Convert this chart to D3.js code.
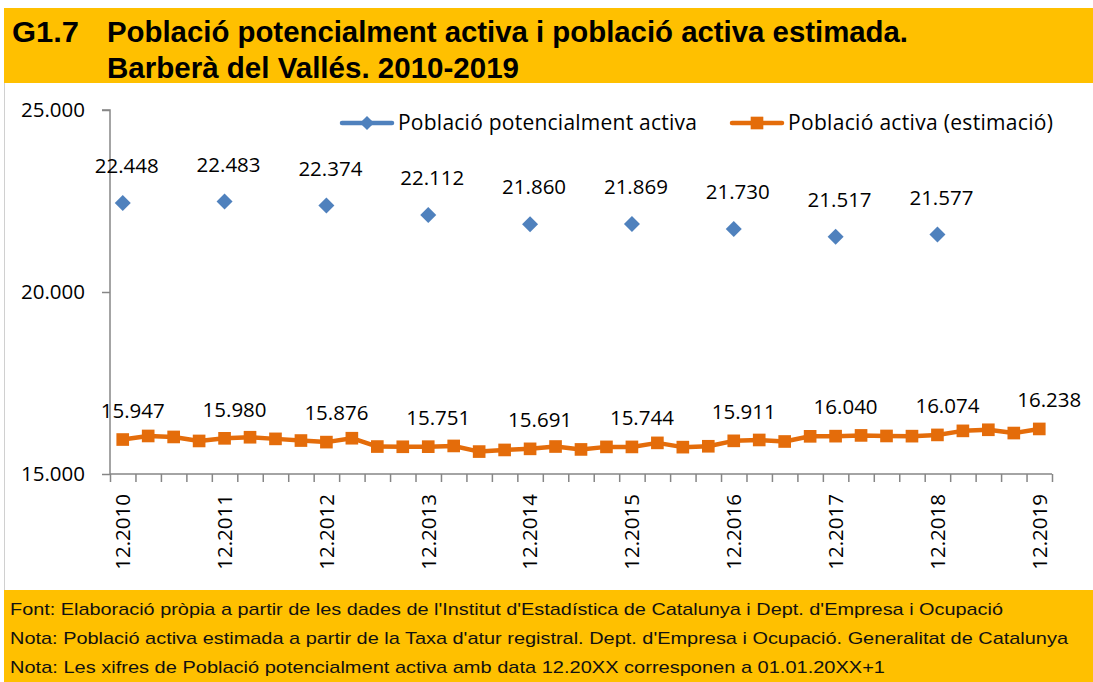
<!DOCTYPE html>
<html><head><meta charset="utf-8">
<script src="https://cdn.jsdelivr.net/npm/d3@7"></script>
<style>body{margin:0;background:#fff}svg{display:block}</style>
</head><body>
<svg id="c" width="1093" height="682"></svg>
<script>
// ---- data ----
const categories = [
  "12.2010","03.2011","06.2011","09.2011","12.2011","03.2012","06.2012","09.2012",
  "12.2012","03.2013","06.2013","09.2013","12.2013","03.2014","06.2014","09.2014",
  "12.2014","03.2015","06.2015","09.2015","12.2015","03.2016","06.2016","09.2016",
  "12.2016","03.2017","06.2017","09.2017","12.2017","03.2018","06.2018","09.2018",
  "12.2018","03.2019","06.2019","09.2019","12.2019"
];
const activeEstimate = [
  15947,16045,16018,15908,15980,16010,15965,15919,
  15876,15983,15754,15748,15751,15771,15616,15661,
  15691,15755,15675,15745,15744,15855,15738,15762,
  15911,15935,15893,16035,16040,16060,16045,16040,
  16074,16185,16215,16125,16238
];
const potentialCategories = ["12.2010","12.2011","12.2012","12.2013","12.2014","12.2015","12.2016","12.2017","12.2018"];
const potentialActive = [22448,22483,22374,22112,21860,21869,21730,21517,21577];
const labelledCategories = ["12.2010","12.2011","12.2012","12.2013","12.2014","12.2015","12.2016","12.2017","12.2018","12.2019"];
const yTicks = [15000,20000,25000];
const seriesNames = ["Població potencialment activa","Població activa (estimació)"];
const titleCode = "G1.7";
const titleLines = ["Població potencialment activa i població activa estimada.","Barberà del Vallés. 2010-2019"];
const footnotes = [
  "Font: Elaboració pròpia a partir de les dades de l'Institut d'Estadística de Catalunya i Dept. d'Empresa i Ocupació",
  "Nota: Població activa estimada a partir de la Taxa d'atur registral. Dept. d'Empresa i Ocupació. Generalitat de Catalunya",
  "Nota: Les xifres de Població potencialment activa amb data 12.20XX corresponen a 01.01.20XX+1"
];

// ---- setup ----
const svg = d3.select("#c");
const W = 1093, H = 682;
const pLeft = 110, pRight = 1052, pTop = 110, pBottom = 474;
const BLUE = "#4F81BD", ORANGE = "#E46C0A", YELLOW = "#FFC000", AXIS = "#868686";
const FONT = "'Open Sans', sans-serif";
const loc = d3.formatLocale({decimal: ",", thousands: ".", grouping: [3], currency: ["", "€"]});
const fmt = loc.format(",d");

const x = d3.scaleBand().domain(categories).range([pLeft, pRight]).padding(0);
const cx = c => x(c) + x.bandwidth() / 2;
const edges = d3.scaleLinear().domain([0, categories.length]).range([pLeft, pRight]);
const y = d3.scaleLinear().domain([15000, 25000]).range([pBottom, pTop]);

// chart border
svg.append("line").attr("x1", 4.5).attr("x2", 4.5).attr("y1", 80).attr("y2", 592)
  .attr("stroke", "#d0d0d0").attr("stroke-width", 1);

// title band
svg.append("rect").attr("x", 4).attr("y", 8).attr("width", W - 4).attr("height", 75).attr("fill", YELLOW);
const tfont = "'Liberation Sans', Arial, sans-serif";
svg.append("text").attr("x", 12).attr("y", 42).text(titleCode)
  .attr("font-family", tfont).attr("font-weight", "bold").attr("font-size", 29)
  .attr("textLength", 67).attr("lengthAdjust", "spacingAndGlyphs");
titleLines.forEach((t, i) => {
  svg.append("text").attr("x", 107).attr("y", 42 + i * 36).text(t)
    .attr("font-family", tfont).attr("font-weight", "bold").attr("font-size", 29)
    .attr("textLength", i === 0 ? 801 : 412).attr("lengthAdjust", "spacingAndGlyphs");
});

// footer band
svg.append("rect").attr("x", 4).attr("y", 590).attr("width", W - 4).attr("height", H - 590).attr("fill", YELLOW);
const footLens = [993, 1058, 875];
footnotes.forEach((t, i) => {
  svg.append("text").attr("x", 10).attr("y", 615 + i * 29).text(t)
    .attr("font-family", tfont).attr("font-size", 17).attr("fill", "#111")
    .attr("textLength", footLens[i]).attr("lengthAdjust", "spacingAndGlyphs");
});

// y axis
const yAxis = d3.axisLeft(y).tickValues(yTicks).tickSize(8).tickFormat(fmt);
const gy = svg.append("g").attr("transform", `translate(${pLeft},0)`).call(yAxis);
gy.select(".domain").attr("stroke", AXIS).attr("stroke-width", 1.5).attr("d", `M-8,${pTop}H0V${pBottom}`);
gy.selectAll(".tick line").attr("stroke", AXIS).attr("stroke-width", 1.5);
gy.selectAll(".tick text").attr("x", -25).attr("font-family", FONT).attr("font-size", 20.5).attr("fill", "#000");

// x axis (ticks at category boundaries)
const xAxis = d3.axisBottom(edges).tickValues(d3.range(categories.length + 1)).tickSize(8).tickFormat("");
const gx = svg.append("g").attr("transform", `translate(0,${pBottom})`).call(xAxis);
gx.select(".domain").attr("stroke", AXIS).attr("stroke-width", 1.5).attr("d", `M${pLeft},0H${pRight}`);
gx.selectAll(".tick line").attr("stroke", AXIS).attr("stroke-width", 1.5);

// x labels
svg.append("g").selectAll("text").data(labelledCategories).join("text")
  .attr("transform", d => `translate(${cx(d)},${pBottom + 20}) rotate(-90)`)
  .attr("text-anchor", "end").attr("dy", "0.36em")
  .attr("font-family", FONT).attr("font-size", 20.5).attr("fill", "#000")
  .text(d => d);

// orange line
const line = d3.line().x((d, i) => cx(categories[i])).y(d => y(d));
svg.append("path").datum(activeEstimate).attr("d", line)
  .attr("fill", "none").attr("stroke", ORANGE).attr("stroke-width", 4.5).attr("stroke-linejoin", "round");
svg.append("g").selectAll("path").data(activeEstimate).join("path")
  .attr("d", d3.symbol(d3.symbolSquare, 160))
  .attr("transform", (d, i) => `translate(${cx(categories[i])},${y(d)})`)
  .attr("fill", ORANGE);

// blue diamonds
svg.append("g").selectAll("path").data(potentialActive).join("path")
  .attr("d", d3.symbol(d3.symbolSquare, 128))
  .attr("transform", (d, i) => `translate(${cx(potentialCategories[i])},${y(d)}) rotate(45)`)
  .attr("fill", BLUE);

// labels
svg.append("g").selectAll("text").data(potentialActive).join("text")
  .attr("x", (d, i) => cx(potentialCategories[i]) + 4)
  .attr("y", d => y(d) - 37).attr("dy", "0.35em")
  .attr("text-anchor", "middle").attr("font-family", FONT).attr("font-size", 20.5).attr("fill", "#000")
  .text(fmt);
const activeLabelled = labelledCategories.map(c => activeEstimate[categories.indexOf(c)]);
svg.append("g").selectAll("text").data(activeLabelled).join("text")
  .attr("x", (d, i) => cx(labelledCategories[i]) + 10)
  .attr("y", d => y(d) - 29).attr("dy", "0.35em")
  .attr("text-anchor", "middle").attr("font-family", FONT).attr("font-size", 20.5).attr("fill", "#000")
  .text(fmt);

// legend
const legend = [
  {name: seriesNames[0], color: BLUE, x0: 342, sym: "diamond", len: 299},
  {name: seriesNames[1], color: ORANGE, x0: 732, sym: "square", len: 265}
];
legend.forEach(l => {
  const g = svg.append("g");
  g.append("line").attr("x1", l.x0).attr("x2", l.x0 + 50).attr("y1", 123).attr("y2", 123)
    .attr("stroke", l.color).attr("stroke-width", 4.5).attr("stroke-linecap", "round");
  g.append("path").attr("d", d3.symbol(d3.symbolSquare, l.sym === "diamond" ? 100 : 160))
    .attr("transform", `translate(${l.x0 + 25},123)` + (l.sym === "diamond" ? " rotate(45)" : ""))
    .attr("fill", l.color);
  g.append("text").attr("x", l.x0 + 56).attr("y", 130).text(l.name)
    .attr("font-family", FONT).attr("font-size", 21).attr("fill", "#000")
    .attr("textLength", l.len).attr("lengthAdjust", "spacing");
});
</script>
</body></html>
